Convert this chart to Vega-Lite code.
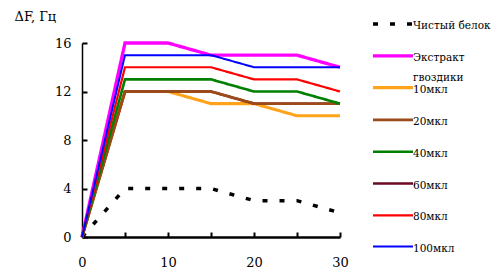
{
  "$schema": "https://vega.github.io/schema/vega-lite/v6.json",
  "autosize": "none",
  "padding": {"left": 82, "top": 43, "right": 151, "bottom": 42},
  "width": 258,
  "height": 194,
  "config": {
    "view": {"stroke": null},
    "font": "DejaVu Serif",
    "axis": {"grid": false, "ticks": true, "domainColor": "black", "tickColor": "black", "labelColor": "black", "labelFont": "DejaVu Serif", "labelFontSize": 13, "titleFont": "DejaVu Serif"}
  },
  "data": {
    "values": [
      {"t": 0, "v": 0, "s": "Чистый белок"}, {"t": 5, "v": 4, "s": "Чистый белок"}, {"t": 10, "v": 4, "s": "Чистый белок"}, {"t": 15, "v": 4, "s": "Чистый белок"}, {"t": 20, "v": 3, "s": "Чистый белок"}, {"t": 25, "v": 3, "s": "Чистый белок"}, {"t": 30, "v": 2, "s": "Чистый белок"},
      {"t": 0, "v": 0, "s": "Экстракт гвоздики"}, {"t": 5, "v": 16, "s": "Экстракт гвоздики"}, {"t": 10, "v": 16, "s": "Экстракт гвоздики"}, {"t": 15, "v": 15, "s": "Экстракт гвоздики"}, {"t": 20, "v": 15, "s": "Экстракт гвоздики"}, {"t": 25, "v": 15, "s": "Экстракт гвоздики"}, {"t": 30, "v": 14, "s": "Экстракт гвоздики"},
      {"t": 0, "v": 0, "s": "10мкл"}, {"t": 5, "v": 12, "s": "10мкл"}, {"t": 10, "v": 12, "s": "10мкл"}, {"t": 15, "v": 11, "s": "10мкл"}, {"t": 20, "v": 11, "s": "10мкл"}, {"t": 25, "v": 10, "s": "10мкл"}, {"t": 30, "v": 10, "s": "10мкл"},
      {"t": 0, "v": 0, "s": "60мкл"}, {"t": 5, "v": 12, "s": "60мкл"}, {"t": 10, "v": 12, "s": "60мкл"}, {"t": 15, "v": 12, "s": "60мкл"}, {"t": 20, "v": 11, "s": "60мкл"}, {"t": 25, "v": 11, "s": "60мкл"}, {"t": 30, "v": 11, "s": "60мкл"},
      {"t": 0, "v": 0, "s": "20мкл"}, {"t": 5, "v": 12, "s": "20мкл"}, {"t": 10, "v": 12, "s": "20мкл"}, {"t": 15, "v": 12, "s": "20мкл"}, {"t": 20, "v": 11, "s": "20мкл"}, {"t": 25, "v": 11, "s": "20мкл"}, {"t": 30, "v": 11, "s": "20мкл"},
      {"t": 0, "v": 0, "s": "40мкл"}, {"t": 5, "v": 13, "s": "40мкл"}, {"t": 10, "v": 13, "s": "40мкл"}, {"t": 15, "v": 13, "s": "40мкл"}, {"t": 20, "v": 12, "s": "40мкл"}, {"t": 25, "v": 12, "s": "40мкл"}, {"t": 30, "v": 11, "s": "40мкл"},
      {"t": 0, "v": 0, "s": "80мкл"}, {"t": 5, "v": 14, "s": "80мкл"}, {"t": 10, "v": 14, "s": "80мкл"}, {"t": 15, "v": 14, "s": "80мкл"}, {"t": 20, "v": 13, "s": "80мкл"}, {"t": 25, "v": 13, "s": "80мкл"}, {"t": 30, "v": 12, "s": "80мкл"},
      {"t": 0, "v": 0, "s": "100мкл"}, {"t": 5, "v": 15, "s": "100мкл"}, {"t": 10, "v": 15, "s": "100мкл"}, {"t": 15, "v": 15, "s": "100мкл"}, {"t": 20, "v": 14, "s": "100мкл"}, {"t": 25, "v": 14, "s": "100мкл"}, {"t": 30, "v": 14, "s": "100мкл"}
    ]
  },
  "mark": {"type": "line", "strokeCap": "butt", "strokeJoin": "miter"},
  "encoding": {
    "x": {
      "field": "t", "type": "quantitative",
      "scale": {"domain": [0, 30], "nice": false, "zero": true},
      "axis": {"title": null, "values": [0, 5, 10, 15, 20, 25, 30], "labelExpr": "datum.value % 10 == 0 ? datum.label : ''", "tickSize": -5, "tickWidth": 2, "domainWidth": 2.5, "labelPadding": 24, "labelFlush": false}
    },
    "y": {
      "field": "v", "type": "quantitative",
      "scale": {"domain": [0, 16], "nice": false},
      "axis": {"title": "ΔF, Гц", "titleAngle": 0, "titleAlign": "left", "titleBaseline": "middle", "titleX": -68, "titleY": -27, "titleFontSize": 13, "titleFontWeight": "normal", "titleColor": "black", "values": [0, 4, 8, 12, 16], "tickSize": -5, "tickWidth": 2, "domainWidth": 1.5, "labelPadding": 16}
    },
    "color": {
      "field": "s", "type": "nominal",
      "scale": {
        "domain": ["Чистый белок", "Экстракт гвоздики", "10мкл", "20мкл", "40мкл", "60мкл", "80мкл", "100мкл"],
        "range": ["#000000", "#FF00FF", "#FFA31A", "#9C4A1A", "#008000", "#6B0A22", "#FF0000", "#0000FF"]
      },
      "legend": {
        "title": null, "orient": "none", "legendX": 299, "legendY": -31, "padding": 0,
        "symbolType": "M-2,0H2", "symbolSize": 400, "symbolStrokeWidth": 2,
        "labelFont": "DejaVu Serif", "labelFontSize": 10.5, "labelColor": "black", "labelOffset": 8, "labelLimit": 200,
        "rowPadding": 8.8,
        "labelExpr": "datum.label == '10мкл' ? ['гвоздики', '10мкл'] : datum.label == 'Экстракт гвоздики' ? ['', 'Экстракт'] : ['', datum.label]",
        "encode": {
          "labels": {"update": {"dy": {"value": -10}, "lineHeight": {"value": 12}}},
          "symbols": {"update": {"strokeWidth": {"signal": "datum.index == 0 ? 3.5 : 2"}}}
        }
      }
    },
    "strokeDash": {
      "field": "s", "type": "nominal",
      "scale": {
        "domain": ["Чистый белок", "Экстракт гвоздики", "10мкл", "20мкл", "40мкл", "60мкл", "80мкл", "100мкл"],
        "range": [[5, 12], [1, 0], [1, 0], [1, 0], [1, 0], [1, 0], [1, 0], [1, 0]]
      },
      "legend": null
    },
    "strokeWidth": {
      "field": "s", "type": "nominal",
      "scale": {
        "domain": ["Чистый белок", "Экстракт гвоздики", "10мкл", "20мкл", "40мкл", "60мкл", "80мкл", "100мкл"],
        "range": [3.5, 2, 2, 2, 2, 2, 2, 2]
      },
      "legend": null
    }
  }
}
